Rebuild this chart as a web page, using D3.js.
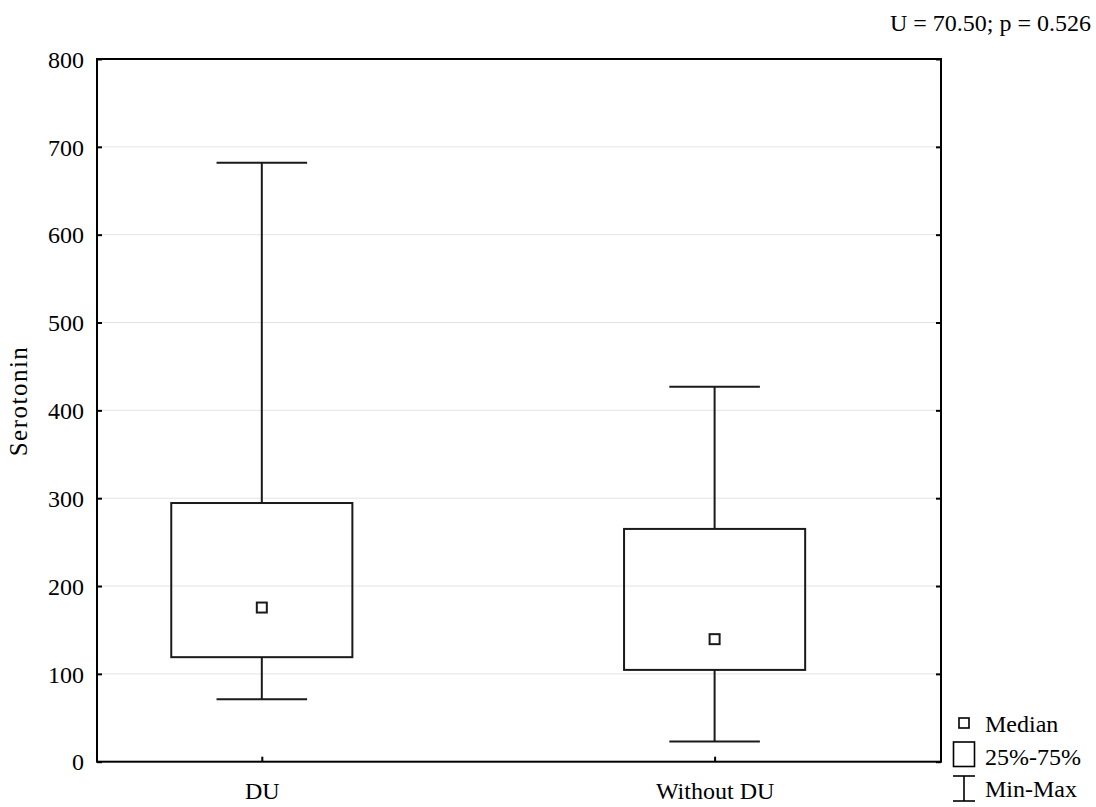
<!DOCTYPE html>
<html><head><meta charset="utf-8">
<script src="https://cdn.jsdelivr.net/npm/d3@7"></script>
<style>body{margin:0;background:#fff}svg{display:block}text{font-family:"Liberation Serif","DejaVu Serif",serif;fill:#000}</style>
</head><body><svg id="c" width="1096" height="807"></svg>
<script>
const categories = ["DU", "Without DU"];
const minVals = [71, 23];
const q1Vals = [119, 104.5];
const medianVals = [175.5, 139.5];
const q3Vals = [294.5, 265];
const maxVals = [682, 427];
const yTicks = [0, 100, 200, 300, 400, 500, 600, 700, 800];
const statText = "U = 70.50; p = 0.526";
const yTitle = "Serotonin";
const legendLabels = ["Median", "25%-75%", "Min-Max"];

const svg = d3.select("#c");
const L = 97, R = 941, T = 59, B = 761.7;
const y = d3.scaleLinear().domain([0, 800]).range([B, T]);
const x = d3.scaleLinear().domain([-0.364, 1.5]).range([L, R]);
const boxHalf = 0.2, capHalf = 0.1;
const FS = "24px";

// grid
svg.append("g").selectAll("line").data(yTicks.filter(d => d > 0 && d < 800)).join("line")
  .attr("x1", L).attr("x2", R).attr("y1", d => y(d)).attr("y2", d => y(d))
  .attr("stroke", "#e4e4e4").attr("stroke-width", 1);

// axes
const yl = svg.append("g").attr("transform", `translate(${L},0)`)
  .call(d3.axisLeft(y).tickValues(yTicks).tickSize(-5).tickPadding(13));
const yr = svg.append("g").attr("transform", `translate(${R},0)`)
  .call(d3.axisRight(y).tickValues(yTicks).tickSize(-5).tickFormat(""));
const xb = svg.append("g").attr("transform", `translate(0,${B})`)
  .call(d3.axisBottom(x).tickValues(categories.map((d, i) => i)).tickFormat(i => categories[i]).tickSize(-5).tickPadding(33));
[yl, yr, xb].forEach(g => {
  g.select(".domain").remove();
  g.selectAll(".tick line").attr("stroke", "#000").attr("stroke-width", 2);
  g.selectAll("text").style("font-size", FS).style("font-family", '"Liberation Serif",serif').attr("fill", "#000");
});
yl.selectAll("text").attr("dy", "0.34em");
xb.selectAll("text").attr("dy", "0.2em");

// frame
svg.append("rect").attr("x", L).attr("y", T).attr("width", R - L).attr("height", B - T)
  .attr("fill", "none").attr("stroke", "#000").attr("stroke-width", 2);

// boxes
const g = svg.append("g").attr("stroke", "#1a1a1a").attr("stroke-width", 2).attr("fill", "none");
categories.forEach((c, i) => {
  g.append("line").attr("x1", x(i)).attr("x2", x(i)).attr("y1", y(maxVals[i])).attr("y2", y(q3Vals[i]));
  g.append("line").attr("x1", x(i)).attr("x2", x(i)).attr("y1", y(q1Vals[i])).attr("y2", y(minVals[i]));
  g.append("line").attr("x1", x(i - capHalf)).attr("x2", x(i + capHalf)).attr("y1", y(maxVals[i])).attr("y2", y(maxVals[i]));
  g.append("line").attr("x1", x(i - capHalf)).attr("x2", x(i + capHalf)).attr("y1", y(minVals[i])).attr("y2", y(minVals[i]));
  g.append("rect").attr("x", x(i - boxHalf)).attr("width", x(i + boxHalf) - x(i - boxHalf))
    .attr("y", y(q3Vals[i])).attr("height", y(q1Vals[i]) - y(q3Vals[i]));
  g.append("rect").attr("x", x(i) - 5).attr("y", y(medianVals[i]) - 5).attr("width", 10).attr("height", 10);
});

// stat text
svg.append("text").attr("x", 1091).attr("y", 31).attr("text-anchor", "end").style("font-size", FS).text(statText);

// y title
svg.append("text").attr("transform", "translate(27,401) rotate(-90)").attr("text-anchor", "middle")
  .style("font-size", "25px").style("letter-spacing", "1.5px").text(yTitle);

// legend
const lg = svg.append("g").attr("stroke", "#000").attr("stroke-width", 1.6).attr("fill", "none");
lg.append("rect").attr("x", 959).attr("y", 718).attr("width", 10).attr("height", 10);
lg.append("rect").attr("x", 953.5).attr("y", 742).attr("width", 21).attr("height", 24.5);
lg.append("line").attr("x1", 953).attr("x2", 975).attr("y1", 776).attr("y2", 776);
lg.append("line").attr("x1", 964).attr("x2", 964).attr("y1", 776).attr("y2", 801);
lg.append("line").attr("x1", 953).attr("x2", 975).attr("y1", 801).attr("y2", 801);
const ly = [731.5, 765, 796.5];
legendLabels.forEach((t, i) => svg.append("text").attr("x", 985).attr("y", ly[i]).style("font-size", FS).text(t));
</script></body></html>
